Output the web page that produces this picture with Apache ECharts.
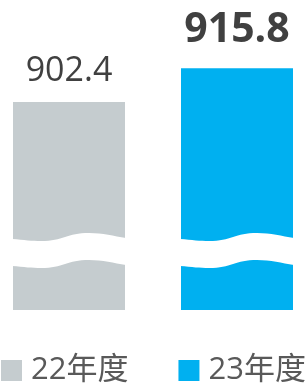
<!DOCTYPE html>
<html>
<head>
<meta charset="utf-8">
<script src="https://cdn.jsdelivr.net/npm/echarts@6/dist/echarts.min.js"></script>
<style>
  html, body { margin: 0; padding: 0; background: #fff; }
  #main { width: 307px; height: 386px; }
</style>
</head>
<body>
<div id="main"></div>
<script>
// 数据
const categories = ['22年度', '23年度'];
const values = [902.4, 915.8];

const colors = ['#C5CCCF', '#00B0F0'];
const fontFamily = '"Open Sans", "Noto Sans CJK SC", sans-serif';
const barWidth = 112;
// 断轴波浪所在的数值位置
const breakValue = 847.7;

const labelStyles = [
    { fontSize: 34, fontWeight: 'normal', distance: 14 },
    { fontSize: 41, fontWeight: 'bold', distance: 17 }
];

// 一条波浪线的控制点 [x比例, y偏移]
function waveCurve(x0, y, w, reverse) {
    const segs = [
        [[0, -1]],
        [[0.1, 0], [0.17, 1], [0.25, 1]],
        [[0.45, 1], [0.48, -7], [0.68, -7]],
        [[0.8, -7], [0.9, -4], [1, -2]]
    ];
    const pt = (q) => (x0 + q[0] * w + (q[0] === 0 ? -1 : q[0] === 1 ? 1 : 0)) + ',' + (y + q[1]);
    let p = '';
    if (!reverse) {
        p += 'M' + pt(segs[0][0]);
        for (let i = 1; i < segs.length; i++) {
            p += ' C' + segs[i].map(pt).join(' ');
        }
    } else {
        p += ' L' + pt(segs[3][2]);
        for (let i = segs.length - 1; i >= 1; i--) {
            const end = i === 1 ? segs[0][0] : segs[i - 1][2];
            p += ' C' + [segs[i][1], segs[i][0], end].map(pt).join(' ');
        }
        p += ' Z';
    }
    return p;
}

function wavePath(x0, y, w, h) {
    return waveCurve(x0, y, w, false) + waveCurve(x0, y + h, w, true);
}

const barSeries = categories.map((name, i) => ({
    name: name,
    type: 'bar',
    barWidth: barWidth,
    barGap: '-100%',
    data: [[i, values[i]]],
    itemStyle: { color: colors[i] },
    label: {
        show: true,
        position: 'top',
        distance: labelStyles[i].distance,
        fontSize: labelStyles[i].fontSize,
        fontWeight: labelStyles[i].fontWeight,
        fontFamily: fontFamily,
        color: '#404040',
        formatter: p => p.value[1]
    }
}));

const option = {
    animation: false,
    grid: { left: 0, right: 0, top: 57.6, bottom: 76 },
    // 类目位置 0、1 映射到柱中心
    xAxis: { type: 'value', min: -69 / 168, max: 238 / 168, show: false },
    yAxis: { type: 'value', min: 820, max: 920, show: false },
    legend: {
        data: categories,
        left: 1,
        bottom: 0,
        padding: 0,
        width: 306,
        icon: 'rect',
        itemWidth: 21,
        itemHeight: 21,
        itemGap: 50,
        textStyle: {
            fontSize: 31,
            color: '#595959',
            fontFamily: fontFamily,
            padding: [0, 0, 0, 4]
        }
    },
    series: barSeries.concat([{
        type: 'custom',
        z: 10,
        silent: true,
        data: categories.map((c, i) => i),
        renderItem: function (params, api) {
            const pt = api.coord([api.value(0), breakValue]);
            return {
                type: 'path',
                shape: { pathData: wavePath(pt[0] - barWidth / 2, pt[1], barWidth, 27) },
                style: { fill: '#fff' }
            };
        }
    }])
};

const myChart = echarts.init(document.getElementById('main'));
myChart.setOption(option);
</script>
</body>
</html>
